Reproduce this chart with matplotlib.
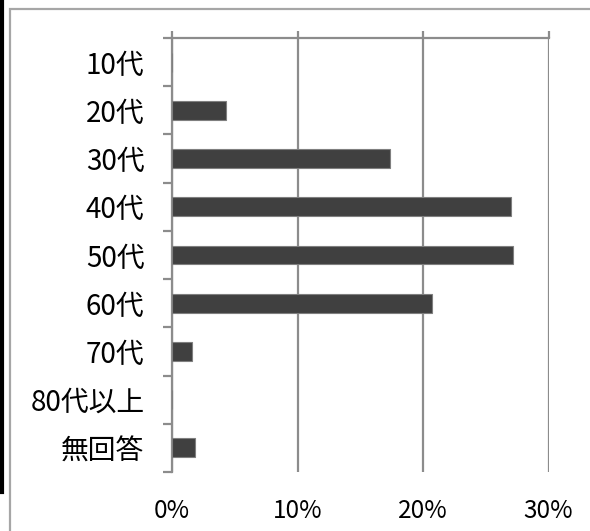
import matplotlib
matplotlib.use("Agg")
import matplotlib.pyplot as plt
from matplotlib.patches import Rectangle
from matplotlib.lines import Line2D
from matplotlib.ticker import FuncFormatter

plt.rcParams['font.family'] = ['Noto Sans CJK JP', 'DejaVu Sans']

categories = ["10代", "20代", "30代", "40代", "50代", "60代", "70代", "80代以上", "無回答"]
shares = [0.0, 4.3, 17.4, 27.0, 27.2, 20.7, 1.6, 0.0, 1.8]
x_ticks = [0, 10, 20, 30]

W, H, DPI = 590, 531, 100
fig = plt.figure(figsize=(W / DPI, H / DPI), dpi=DPI)
fig.patch.set_facecolor("white")

left, right, top, bottom = 172.3, 548.5, 38, 472
ax = fig.add_axes([left / W, 1 - bottom / H, (right - left) / W, (bottom - top) / H])

grid_c = "#8c8c8c"
pos = list(range(len(categories)))
ax.barh(pos, shares, height=0.39, color="#404040", edgecolor="#7f7f7f",
        linewidth=0.8, zorder=3)

ax.set_xlim(0, 30)
ax.set_ylim(len(categories) - 0.5, -0.5)

ax.set_xticks(x_ticks)
ax.xaxis.set_major_formatter(FuncFormatter(lambda v, p: f"{v:.0f}%"))
ax.grid(axis="x", color=grid_c, linewidth=1.6, zorder=1)
ax.set_axisbelow(True)

ax.set_yticks(pos)
ax.set_yticklabels(categories)
ax.set_yticks([p + 0.5 for p in [-1] + pos], minor=True)

ax.tick_params(axis="x", which="both", top=True, bottom=False, labeltop=False,
               labelbottom=True, direction="out", length=5, width=1.6,
               color=grid_c, pad=13.5, labelsize=17.5, labelcolor="black")
ax.tick_params(axis="y", which="major", length=0, pad=20, labelsize=20,
               labelcolor="black")
ax.tick_params(axis="y", which="minor", left=True, direction="out", length=6.5,
               width=1.6, color=grid_c)

for side in ["right", "bottom"]:
    ax.spines[side].set_visible(False)
for side in ["top", "left"]:
    ax.spines[side].set_color(grid_c)
    ax.spines[side].set_linewidth(1.6)

# outer frame and the dark rule on the far left
fig.patches.append(Rectangle((10 / W, -0.05), 1.0, (H - 9) / H + 0.05,
                             transform=fig.transFigure, fill=False,
                             edgecolor="#a6a6a6", linewidth=1.6))
fig.lines.append(Line2D([2 / W, 2 / W], [1, 1 - 492 / H],
                        transform=fig.transFigure, color="black", linewidth=3))

fig.savefig("out.png", dpi=DPI, facecolor="white")
